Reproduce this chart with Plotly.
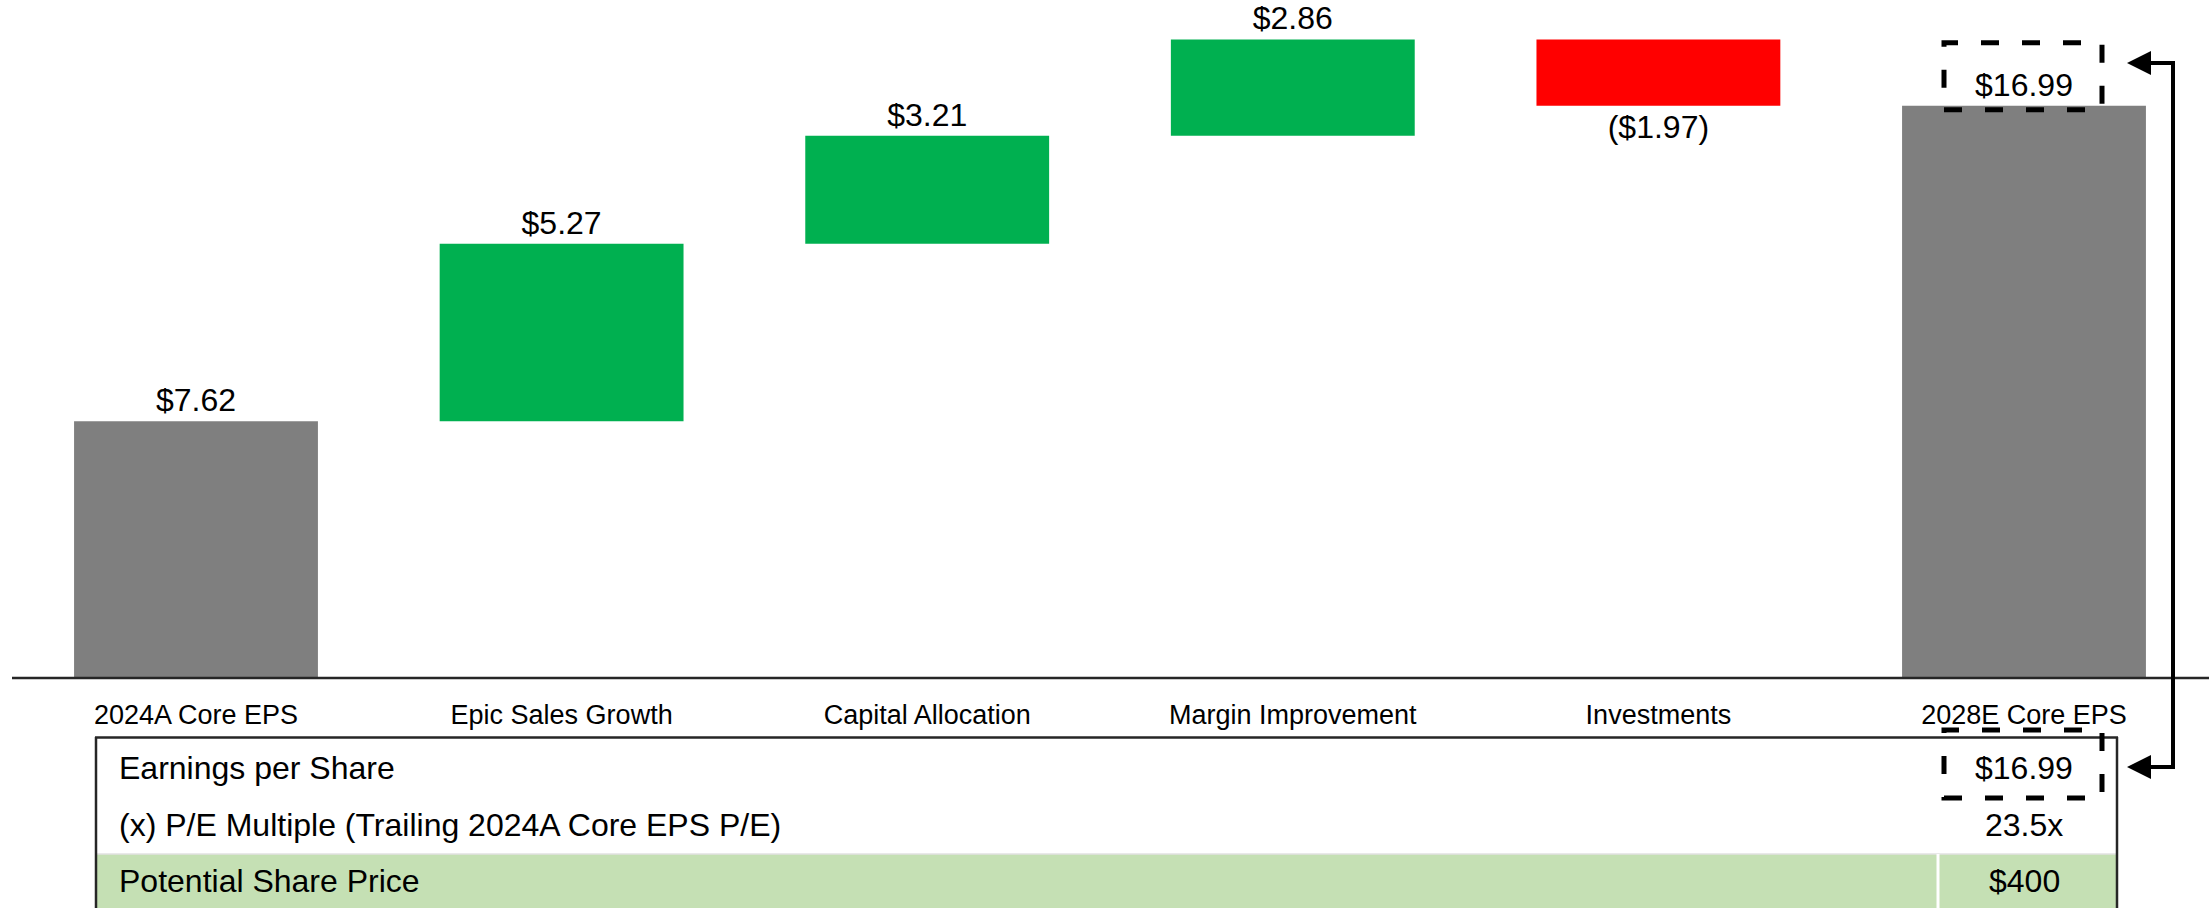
import plotly.graph_objects as go

# ---- data -------------------------------------------------------------
categories = ["2024A Core EPS", "Epic Sales Growth", "Capital Allocation",
              "Margin Improvement", "Investments", "2028E Core EPS"]
eps_steps = [7.62, 5.27, 3.21, 2.86, -1.97, 0]
measures = ["absolute", "relative", "relative", "relative", "relative", "total"]

table_labels = ["Earnings per Share",
                "(x) P/E Multiple (Trailing 2024A Core EPS P/E)",
                "Potential Share Price"]
pe_multiple = 23.5
share_price = 400

# ---- styling ------------------------------------------------------------
W, H = 2209, 908
FONT = "Liberation Sans, Arial, sans-serif"
GRAY = "#7F7F7F"
GREEN = "#00B050"
RED = "#FF0000"
LIGHT_GREEN = "#C5E0B4"
BORDER = "#262626"


def money(v):
    return f"${v:.2f}" if v >= 0 else f"(${-v:.2f})"


def px(x):
    return x / W


def py(y):
    return 1 - y / H


eps_2028 = round(sum(eps_steps[:-1]), 2)
bar_text = [money(v) for v in eps_steps[:-1]] + [money(eps_2028)]
x_pos = list(range(len(categories)))

fig = go.Figure()
fig.add_trace(go.Waterfall(
    x=x_pos,
    y=eps_steps,
    measure=measures,
    text=bar_text,
    textposition="outside",
    textfont=dict(family=FONT, size=32, color="black"),
    increasing=dict(marker=dict(color=GREEN)),
    decreasing=dict(marker=dict(color=RED)),
    totals=dict(marker=dict(color=GRAY)),
    connector=dict(visible=False),
    cliponaxis=False,
    hoverinfo="skip",
))

# value 0 sits at pixel row 678, 33.68 px per dollar
zero_px = 678
unit_px = 33.68
y_range = [-(H - zero_px) / unit_px, zero_px / unit_px]
# category centres at 196 px and every 365.6 px
x0_px, step_px = 196, 365.6
x_range = [-x0_px / step_px, (W - x0_px) / step_px]

shapes = []
# category axis line
shapes.append(dict(type="line", xref="paper", yref="y", x0=px(12), x1=1,
                   y0=0, y1=0, line=dict(color=BORDER, width=2.5)))

# table: highlighted bottom row
shapes.append(dict(type="rect", xref="paper", yref="paper", layer="below",
                   x0=px(96), x1=px(2117), y0=py(854), y1=py(912),
                   fillcolor=LIGHT_GREEN, line=dict(width=0)))
shapes.append(dict(type="line", xref="paper", yref="paper",
                   x0=px(96), x1=px(2117), y0=py(854), y1=py(854),
                   line=dict(color="#E2E2E2", width=1.5)))
shapes.append(dict(type="line", xref="paper", yref="paper",
                   x0=px(1938), x1=px(1938), y0=py(854), y1=py(912),
                   line=dict(color="white", width=3)))
# table frame
shapes.append(dict(type="line", xref="paper", yref="paper",
                   x0=px(95), x1=px(2118), y0=py(737.5), y1=py(737.5),
                   line=dict(color=BORDER, width=2.5)))
for xb in (96, 2117):
    shapes.append(dict(type="line", xref="paper", yref="paper",
                       x0=px(xb), x1=px(xb), y0=py(737), y1=py(912),
                       line=dict(color=BORDER, width=2.5)))

# dashed highlight around the 2028E value on the bar
dash_line = dict(color="black", width=5, dash="18px,23px")
shapes.append(dict(type="rect", xref="x", yref="y",
                   xsizemode="pixel", xanchor=5, x0=-80, x1=78,
                   ysizemode="pixel", yanchor=eps_2028, y0=-4, y1=63,
                   line=dash_line))
# ... and around the same value in the table
shapes.append(dict(type="rect", xref="x", yref="paper",
                   xsizemode="pixel", xanchor=5, x0=-80, x1=78,
                   y0=py(798), y1=py(730), line=dash_line))

# bracket linking the two highlighted values
shapes.append(dict(type="line", xref="paper", yref="paper",
                   x0=px(2173), x1=px(2173), y0=py(61), y1=py(769),
                   line=dict(color="black", width=4)))

annotations = []
for y_arrow in (63, 767):
    annotations.append(dict(xref="paper", yref="paper", x=px(2127), y=py(y_arrow),
                            ax=47, ay=0, text="", showarrow=True,
                            arrowhead=2, arrowsize=1.2, arrowwidth=4,
                            arrowcolor="black", standoff=0))

row_y = [768, 825, 881]
row_values = [money(eps_2028), f"{pe_multiple:.1f}x", f"${share_price:,.0f}"]
for label, value, yr in zip(table_labels, row_values, row_y):
    annotations.append(dict(xref="paper", yref="paper", x=px(117), y=py(yr),
                            xanchor="left", yanchor="middle", text=label,
                            showarrow=False,
                            font=dict(family=FONT, size=32, color="black")))
    annotations.append(dict(xref="x", yref="paper", x=5, y=py(yr),
                            xanchor="center", yanchor="middle", text=value,
                            showarrow=False,
                            font=dict(family=FONT, size=32, color="black")))

fig.update_layout(
    width=W, height=H,
    margin=dict(l=0, r=0, t=0, b=0, pad=0, autoexpand=False),
    paper_bgcolor="white", plot_bgcolor="white",
    showlegend=False,
    waterfallgap=0.333,
    font=dict(family=FONT, color="black"),
    xaxis=dict(range=x_range, tickmode="array", tickvals=x_pos,
               ticktext=categories, showgrid=False, zeroline=False,
               showline=False, ticks="", anchor="free", position=py(zero_px),
               tickfont=dict(family=FONT, size=27, color="black"),
               ticklabelstandoff=18, fixedrange=True),
    yaxis=dict(range=y_range, visible=False, fixedrange=True),
    shapes=shapes,
    annotations=annotations,
)

fig.write_html("out.html")
